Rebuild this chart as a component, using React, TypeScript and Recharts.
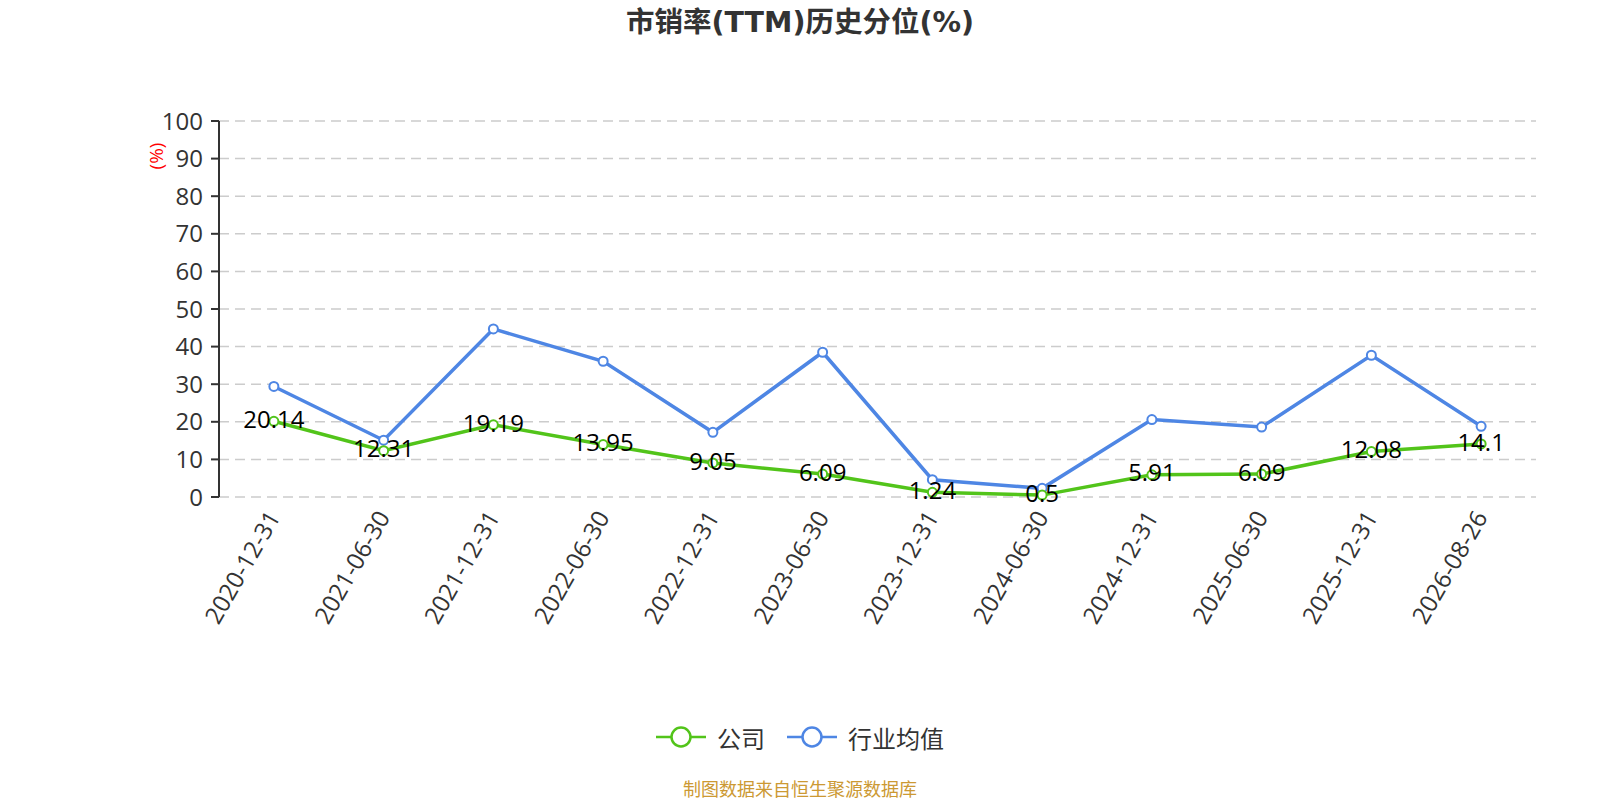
import React from "react";
import {
    LineChart,
    Line,
    XAxis,
    YAxis,
    CartesianGrid,
    LabelList,
} from "recharts";

const categories = [
    "2020-12-31",
    "2021-06-30",
    "2021-12-31",
    "2022-06-30",
    "2022-12-31",
    "2023-06-30",
    "2023-12-31",
    "2024-06-30",
    "2024-12-31",
    "2025-06-30",
    "2025-12-31",
    "2026-08-26",
];
const companyValues = [20.14, 12.31, 19.19, 13.95, 9.05, 6.09, 1.24, 0.5, 5.91, 6.09, 12.08, 14.1];
const industryValues = [29.4, 15.1, 44.7, 36.1, 17.2, 38.5, 4.6, 2.3, 20.6, 18.6, 37.7, 18.8];
const yTicks = [0, 10, 20, 30, 40, 50, 60, 70, 80, 90, 100];
const boundaryTicks = categories.map((_, i) => i).concat(categories.length);

const GREEN = "#52c41a";
const BLUE = "#4e86e4";
const FONT = "'Open Sans', 'Noto Sans CJK SC', sans-serif";
const TITLE_FONT = "'DejaVu Sans', 'Noto Sans CJK SC', sans-serif";

const data = categories.map((date, i) => ({
    date,
    company: companyValues[i],
    industry: industryValues[i],
}));

const series = [
    { key: "company", name: "公司", color: GREEN },
    { key: "industry", name: "行业均值", color: BLUE },
];

function DateTick({ x, y, payload }: any) {
    return (
        <g transform={`translate(${x},${y})`}>
            <text
                x={0}
                y={0}
                dy="0.35em"
                textAnchor="end"
                transform="rotate(-60)"
                fontSize={24}
                fill="#333"
                fontFamily={FONT}
            >
                {payload.value}
            </text>
        </g>
    );
}

function ValueLabel({ x, y, value }: any) {
    return (
        <text
            x={x}
            y={y}
            dy="0.28em"
            textAnchor="middle"
            fontSize={24}
            fill="#000"
            fontFamily={FONT}
        >
            {value}
        </text>
    );
}

function LegendIcon({ color }: { color: string }) {
    return (
        <svg width={50} height={24} style={{ marginRight: 11 }}>
            <line x1={0} y1={12} x2={50} y2={12} stroke={color} strokeWidth={2.5} />
            <circle cx={25} cy={12} r={9.5} fill="#fff" stroke={color} strokeWidth={2.5} />
        </svg>
    );
}

export default function App() {
    return (
        <div
            style={{
                position: "absolute",
                left: 0,
                top: 0,
                width: 1600,
                height: 800,
                background: "#fff",
                fontFamily: FONT,
            }}
        >
            <div
                style={{
                    position: "absolute",
                    left: 0,
                    width: 1600,
                    top: 6,
                    lineHeight: "34px",
                    textAlign: "center",
                    fontSize: 28.5,
                    fontWeight: "bold",
                    color: "#333",
                    fontFamily: TITLE_FONT,
                }}
            >
                市销率(TTM)历史分位(%)
            </div>
            <LineChart
                width={1600}
                height={800}
                data={data}
                margin={{ top: 121, right: 64, left: 139, bottom: 173 }}
            >
                <CartesianGrid
                    horizontal
                    vertical={false}
                    stroke="#ccc"
                    strokeDasharray="10 6"
                    strokeWidth={1.5}
                />
                <XAxis
                    xAxisId="bounds"
                    type="number"
                    domain={[0, categories.length]}
                    ticks={boundaryTicks}
                    tickFormatter={() => ""}
                    height={0}
                    stroke="#333"
                    strokeWidth={2}
                    tickSize={8}
                    allowDataOverflow
                />
                <XAxis
                    dataKey="date"
                    scale="band"
                    height={130}
                    axisLine={false}
                    tickLine={false}
                    tick={<DateTick />}
                    tickSize={4}
                    tickMargin={12}
                    interval={0}
                />
                <YAxis
                    domain={[0, 100]}
                    ticks={yTicks}
                    width={80}
                    stroke="#333"
                    strokeWidth={2}
                    tickSize={8}
                    tickMargin={8}
                    tick={{ fontSize: 24, fill: "#333", fontFamily: FONT }}
                    label={({ viewBox }: any) => (
                        <text
                            x={viewBox.x + 17}
                            y={viewBox.y + 35}
                            transform={`rotate(-90, ${viewBox.x + 17}, ${viewBox.y + 35})`}
                            textAnchor="middle"
                            dy="0.35em"
                            fontSize={19}
                            fill="#f00"
                            fontFamily={FONT}
                        >
                            (%)
                        </text>
                    )}
                />
                <Line
                    type="linear"
                    dataKey="industry"
                    name="行业均值"
                    stroke={BLUE}
                    strokeWidth={3.5}
                    dot={{ r: 4.5, fill: "#fff", stroke: BLUE, strokeWidth: 2 }}
                    activeDot={false}
                    isAnimationActive={false}
                />
                <Line
                    type="linear"
                    dataKey="company"
                    name="公司"
                    stroke={GREEN}
                    strokeWidth={3.5}
                    dot={{ r: 4.5, fill: "#fff", stroke: GREEN, strokeWidth: 2 }}
                    activeDot={false}
                    isAnimationActive={false}
                >
                    <LabelList dataKey="company" content={<ValueLabel />} />
                </Line>
            </LineChart>
            <div
                style={{
                    position: "absolute",
                    left: 0,
                    width: 1600,
                    top: 722,
                    height: 30,
                    display: "flex",
                    justifyContent: "center",
                    alignItems: "center",
                    fontSize: 24,
                    color: "#333",
                }}
            >
                {series.map((s, i) => (
                    <div
                        key={s.key}
                        style={{ display: "flex", alignItems: "center", marginLeft: i ? 22 : 0 }}
                    >
                        <LegendIcon color={s.color} />
                        <span>{s.name}</span>
                    </div>
                ))}
            </div>
            <div
                style={{
                    position: "absolute",
                    left: 0,
                    width: 1600,
                    top: 778,
                    lineHeight: "22px",
                    textAlign: "center",
                    fontSize: 18,
                    color: "#cc9933",
                }}
            >
                制图数据来自恒生聚源数据库
            </div>
        </div>
    );
}
